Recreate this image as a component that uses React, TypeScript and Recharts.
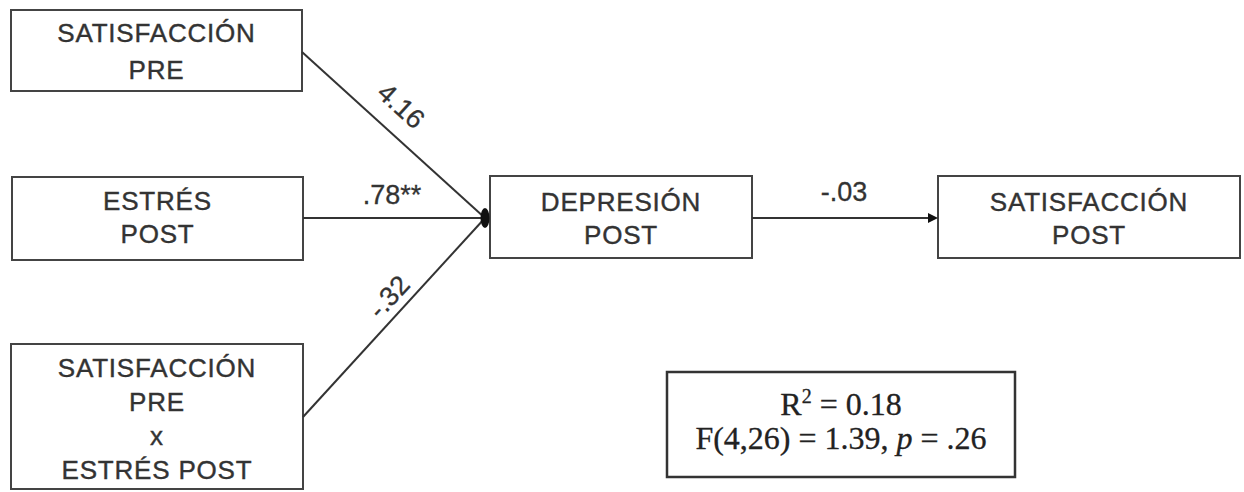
import React from 'react';
import {
    ScatterChart,
    Scatter,
    XAxis,
    YAxis,
    ReferenceArea,
    ReferenceLine,
    ReferenceDot,
} from 'recharts';

// diagram content
const nodeLabels: string[][] = [
    ['SATISFACCIÓN', 'PRE'],
    ['ESTRÉS', 'POST'],
    ['SATISFACCIÓN', 'PRE', 'x', 'ESTRÉS POST'],
    ['DEPRESIÓN', 'POST'],
    ['SATISFACCIÓN', 'POST'],
];
const pathCoefficients = ['4.16', '.78**', '-.32', '-.03'];
const rSquared = '0.18';
const fTest = 'F(4,26) = 1.39, ';
const pValue = ' = .26';

// layout in pixel units (axes domains match the canvas)
const W = 1244;
const H = 492;
const boxes = [
    { x1: 11, x2: 302, y1: 10, y2: 91, cy: 51, gap: 37 },
    { x1: 12, x2: 303, y1: 177, y2: 260, cy: 217, gap: 33 },
    { x1: 11, x2: 303, y1: 344, y2: 489, cy: 419, gap: 34 },
    { x1: 490, x2: 752, y1: 176, y2: 258, cy: 218, gap: 33 },
    { x1: 938, x2: 1240, y1: 176, y2: 258, cy: 218, gap: 33 },
];
const junction = { x: 485, y: 218 };
const edges = [
    { from: { x: 302, y: 52 }, to: junction, label: { x: 401, y: 106 } },
    { from: { x: 303, y: 218 }, to: junction, label: { x: 392, y: 195 } },
    { from: { x: 303, y: 417 }, to: junction, label: { x: 389, y: 297 } },
    { from: { x: 752, y: 218 }, to: { x: 932, y: 218 }, label: { x: 844, y: 192 } },
];
const statsBox = { x1: 667, x2: 1015, y1: 372, y2: 477 };

const INK = '#333';
const SANS = '"Liberation Sans", Arial, sans-serif';
const SERIF = '"Liberation Serif", "Times New Roman", serif';

const boxLabel = (lines: string[], cy: number, gap: number) => (props: any) => {
    const { x, width } = props.viewBox;
    const cx = x + width / 2;
    const start = cy - ((lines.length - 1) * gap) / 2;
    return (
        <text
            textAnchor="middle"
            fill={INK}
            stroke={INK}
            strokeWidth={0.4}
            fontFamily={SANS}
            fontSize={26}
            letterSpacing={0.8}
        >
            {lines.map((l, i) => (
                <tspan key={i} x={cx} y={start + i * gap + 9}>
                    {l}
                </tspan>
            ))}
        </text>
    );
};

const coefLabel = (text: string, angle: number) => (props: any) => {
    const { x, y } = props.viewBox;
    return (
        <text
            x={x}
            y={y}
            dy={9}
            textAnchor="middle"
            fill={INK}
            stroke={INK}
            strokeWidth={0.3}
            fontFamily={SANS}
            fontSize={27}
            transform={`rotate(${angle} ${x} ${y})`}
        >
            {text}
        </text>
    );
};

const statsLabel = (props: any) => {
    const { x, y, width } = props.viewBox;
    const cx = x + width / 2;
    return (
        <text textAnchor="middle" fill="#222" stroke="#222" strokeWidth={0.3} fontFamily={SERIF} fontSize={32}>
            <tspan x={cx} y={y + 43}>
                R<tspan dy={-12} fontSize={20}>2</tspan>
                <tspan dy={12}>{' = ' + rSquared}</tspan>
            </tspan>
            <tspan x={cx} y={y + 77}>
                {fTest}
                <tspan fontStyle="italic">p</tspan>
                {pValue}
            </tspan>
        </text>
    );
};

const JunctionShape = (props: any) => (
    <ellipse cx={props.cx} cy={props.cy} rx={4.5} ry={10} fill="#111" />
);

const ArrowHead = (props: any) => {
    const { cx, cy } = props;
    return <polygon points={`${cx - 4},${cy - 5} ${cx + 6},${cy} ${cx - 4},${cy + 5}`} fill="#111" />;
};

export default function App() {
    return (
        <div style={{ position: 'absolute', left: 0, top: 0, background: '#fff' }}>
            <ScatterChart width={W} height={H} margin={{ top: 0, right: 0, bottom: 0, left: 0 }}>
                <XAxis type="number" dataKey="x" domain={[0, W]} hide />
                <YAxis type="number" dataKey="y" domain={[0, H]} reversed hide />
                {edges.map((e, i) => (
                    <ReferenceLine
                        key={`e${i}`}
                        segment={[e.from, e.to]}
                        stroke={INK}
                        strokeWidth={2}
                        ifOverflow="visible"
                    />
                ))}
                {boxes.map((b, i) => (
                    <ReferenceArea
                        key={`b${i}`}
                        x1={b.x1}
                        x2={b.x2}
                        y1={b.y1}
                        y2={b.y2}
                        fill="#fff"
                        fillOpacity={1}
                        stroke="#444"
                        strokeWidth={2}
                        ifOverflow="visible"
                        label={{ content: boxLabel(nodeLabels[i], b.cy, b.gap) }}
                    />
                ))}
                <ReferenceArea
                    x1={statsBox.x1}
                    x2={statsBox.x2}
                    y1={statsBox.y1}
                    y2={statsBox.y2}
                    fill="#fff"
                    fillOpacity={1}
                    stroke="#333"
                    strokeWidth={2.5}
                    ifOverflow="visible"
                    label={{ content: statsLabel }}
                />
                {edges.map((e, i) => {
                    const dx = e.to.x - e.from.x;
                    const dy = e.to.y - e.from.y;
                    const angle = Math.abs(dy) < 1 ? 0 : (Math.atan2(dy, dx) * 180) / Math.PI;
                    return (
                        <ReferenceDot
                            key={`l${i}`}
                            x={e.label.x}
                            y={e.label.y}
                            r={0}
                            fill="none"
                            stroke="none"
                            ifOverflow="visible"
                            label={{ content: coefLabel(pathCoefficients[i], angle) }}
                        />
                    );
                })}
                <ReferenceDot
                    x={edges[3].to.x}
                    y={edges[3].to.y}
                    r={5}
                    ifOverflow="visible"
                    shape={ArrowHead}
                />
                <Scatter data={[junction]} shape={JunctionShape} isAnimationActive={false} />
            </ScatterChart>
        </div>
    );
}
